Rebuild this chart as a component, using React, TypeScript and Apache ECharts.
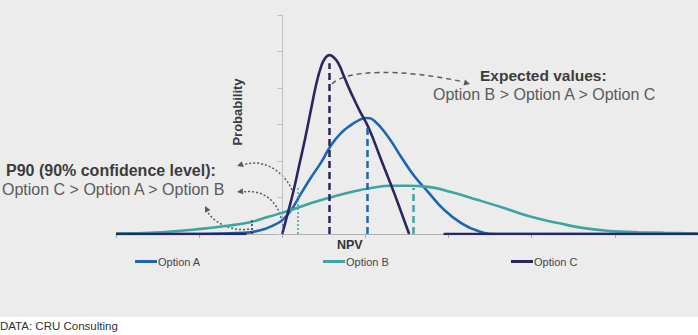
import React, { useEffect, useRef } from "react";
import * as echarts from "echarts";

// NPV axis units: 0 at the probability axis, one unit per x tick
const xA = [-2, -0.97, -0.457, -0.252, -0.096, 0, 0.108, 0.228, 0.349, 0.469, 0.589, 0.709, 0.829, 0.925, 1.01, 1.106, 1.274, 1.43, 1.587, 1.755, 1.947, 2.151, 2.356, 2.572, 5];
const yA = [0, 0, 0.03, 0.11, 0.25, 0.38, 0.66, 1.12, 1.56, 1.97, 2.44, 2.77, 2.99, 3.12, 3.18, 3.1, 2.66, 2.11, 1.59, 1.15, 0.66, 0.3, 0.08, 0, 0];

const xB = [-2, -1.454, -0.974, -0.577, -0.373, -0.168, 0.108, 0.349, 0.589, 0.829, 1.07, 1.31, 1.514, 1.755, 2.031, 2.356, 2.668, 2.993, 3.317, 3.63, 3.954, 4.279, 4.591, 5];
const yB = [0.01, 0.05, 0.14, 0.25, 0.33, 0.47, 0.66, 0.85, 1.01, 1.15, 1.26, 1.32, 1.32, 1.29, 1.15, 0.93, 0.71, 0.47, 0.3, 0.16, 0.08, 0.05, 0.03, 0.01];

const xC = [-2, -0.43, -0.2, 0, 0.06, 0.132, 0.204, 0.276, 0.349, 0.409, 0.469, 0.517, 0.565, 0.613, 0.673, 0.745, 0.829, 0.925, 1.034, 1.19, 1.346, 1.43, 1.526, 1.7, 1.94, 5];
const yC: (number | string)[] = [0, 0, "-", 0, 0.52, 1.15, 1.89, 2.63, 3.45, 4.11, 4.6, 4.82, 4.9, 4.85, 4.68, 4.3, 3.86, 3.4, 2.93, 2.03, 1.12, 0.6, 0, "-", 0, 0];

// expected values (dashed) and P90 (dotted): position and drawn height
const evX = { A: 1.016, B: 1.575, C: 0.565 };
const evTop = { A: 2.99, B: 1.26, C: 4.68 };
const p90X = { A: 0, B: -0.373, C: 0.18 };
const p90Top = { A: 0.33, B: 0.38, C: 1.29 };

const seriesNames = ["Option A", "Option B", "Option C"];
const colors = { A: "#1f66b0", B: "#3fa3a0", C: "#2a2660" };

const FONT = "Liberation Sans, Arial, sans-serif";

function arrowHead(tip: number[], from: number[], color: string) {
  const ang = Math.atan2(tip[1] - from[1], tip[0] - from[0]);
  const L = 6, W = 3;
  const bx = tip[0] - L * Math.cos(ang), by = tip[1] - L * Math.sin(ang);
  return {
    type: "polygon",
    shape: { points: [tip, [bx + W * Math.sin(ang), by - W * Math.cos(ang)], [bx - W * Math.sin(ang), by + W * Math.cos(ang)]] },
    style: { fill: color },
  };
}

function curve(p: number[][], dash: number[], color: string) {
  return {
    type: "bezierCurve",
    shape: { x1: p[0][0], y1: p[0][1], cpx1: p[1][0], cpy1: p[1][1], cpx2: p[2][0], cpy2: p[2][1], x2: p[3][0], y2: p[3][1] },
    style: { stroke: color, lineWidth: 1.5, lineDash: dash, fill: null },
  };
}

function mkSeries(key: "A" | "B" | "C", xs: number[], ys: (number | string)[], name: string, p90Color: string) {
  const color = colors[key];
  return {
    name,
    type: "line",
    data: xs.map((x, i) => [x, ys[i]]),
    smooth: 0.5,
    showSymbol: false,
    lineStyle: { color, width: 2.6 },
    itemStyle: { color },
    markLine: {
      silent: true,
      symbol: ["none", "none"],
      label: { show: false },
      data: [
        [
          { coord: [evX[key], 0], lineStyle: { color, width: 2.5, type: [7, 4] } },
          { coord: [evX[key], evTop[key]] },
        ],
        [
          { coord: [p90X[key], 0], lineStyle: { color: p90Color, width: 1.5, type: [2, 2] } },
          { coord: [p90X[key], p90Top[key]] },
        ],
      ],
    },
  };
}

export default function App() {
  const ref = useRef<HTMLDivElement>(null);
  useEffect(() => {
    document.body.style.margin = "0";
    const chart = echarts.init(ref.current!, undefined, { renderer: "svg" });
    const gray = "#5a5a5a";
    const expArc = [[332, 84], [345, 70], [400, 68], [464, 82]];
    const up = [[292, 190], [283, 170], [262, 158], [243, 165]];
    const mid = [[282, 222], [278, 200], [262, 189], [243, 192]];
    const low = [[249, 229], [235, 232], [214, 224], [207, 211]];
    const legendBase = {
      icon: "rect",
      itemWidth: 22,
      itemHeight: 3,
      itemGap: 4,
      padding: 0,
      top: 256,
      textStyle: { fontFamily: FONT, fontSize: 11, color: "#444", padding: [0, 0, 0, -4] },
    };
    chart.setOption({
      animation: false,
      backgroundColor: "#ffffff",
      grid: { left: 116, right: 0, top: 15, bottom: 101 },
      xAxis: {
        type: "value",
        min: -2,
        max: 5,
        interval: 1,
        axisLine: { lineStyle: { color: "#b0b0b0", width: 1 } },
        axisTick: { show: true, length: 4, lineStyle: { color: "#a8a8a8" } },
        axisLabel: { show: false },
        splitLine: { show: false },
      },
      yAxis: {
        type: "value",
        min: 0,
        max: 6,
        interval: 1,
        axisLine: { show: true, onZero: true, lineStyle: { color: "#c0c0c0", width: 1 } },
        axisTick: { show: true, length: 5, lineStyle: { color: "#c0c0c0" } },
        axisLabel: { show: false },
        splitLine: { show: false },
      },
      legend: [
        { ...legendBase, left: 135, data: [seriesNames[0]] },
        { ...legendBase, left: 323, data: [seriesNames[1]] },
        { ...legendBase, left: 511, data: [seriesNames[2]] },
      ],
      series: [
        mkSeries("A", xA, yA, seriesNames[0], colors.A),
        mkSeries("B", xB, yB, seriesNames[1], colors.C),
        mkSeries("C", xC, yC, seriesNames[2], colors.B),
      ],
      graphic: [
        { type: "rect", z: -10, silent: true, shape: { x: 0, y: 0, width: 698, height: 317 }, style: { fill: "#ececec" } },
        { type: "text", x: 6, y: 170, style: { text: "P90 (90% confidence level):", font: `bold 16px ${FONT}`, fill: "#3c3c3c", verticalAlign: "middle" } },
        { type: "text", x: 2, y: 189, style: { text: "Option C > Option A > Option B", font: `16px ${FONT}`, fill: "#5a5a5a", verticalAlign: "middle" } },
        { type: "text", x: 480, y: 75, style: { text: "Expected values:", font: `bold 15.5px ${FONT}`, fill: "#3c3c3c", verticalAlign: "middle" } },
        { type: "text", x: 433, y: 94, style: { text: "Option B > Option A > Option C", font: `16px ${FONT}`, fill: "#5a5a5a", verticalAlign: "middle" } },
        { type: "text", x: 237, y: 112, rotation: Math.PI / 2, style: { text: "Probability", font: `bold 13px ${FONT}`, fill: "#3c3c3c", align: "center", verticalAlign: "middle" } },
        { type: "text", x: 337, y: 245, style: { text: "NPV", font: `bold 12.5px ${FONT}`, fill: "#333", verticalAlign: "middle" } },
        { type: "text", x: 0, y: 326, style: { text: "DATA: CRU Consulting", font: `11.5px ${FONT}`, fill: "#333", verticalAlign: "middle" } },
        curve(expArc, [5, 4], gray),
        arrowHead([470, 84], expArc[2].map((v, i) => v + (expArc[3][i] - v) * 0.8), gray),
        curve(up, [2, 2], gray),
        arrowHead([237, 166], up[2], gray),
        curve(mid, [2, 2], gray),
        arrowHead([237, 192], mid[2], gray),
        curve(low, [2, 2], gray),
        arrowHead([205, 206], low[2], gray),
      ],
    });
    return () => chart.dispose();
  }, []);
  return <div ref={ref} style={{ position: "fixed", left: 0, top: 0, width: 698, height: 335 }} />;
}
